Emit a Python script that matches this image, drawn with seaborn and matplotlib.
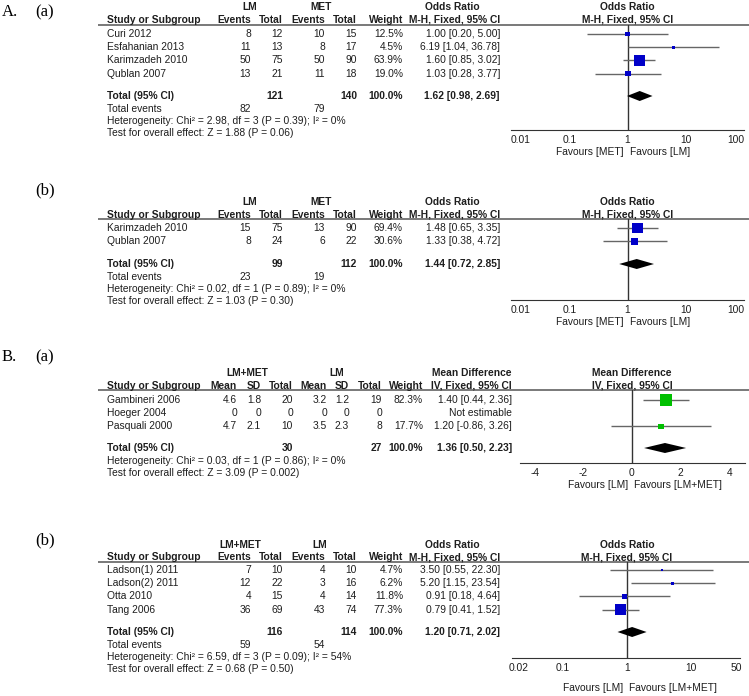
import numpy as np
import pandas as pd
import matplotlib
matplotlib.use('Agg')
import matplotlib.pyplot as plt
import seaborn as sns

# ---------------- A(a): LM vs MET (odds ratio) ----------------
aa_study = ['Curi 2012', 'Esfahanian 2013', 'Karimzadeh 2010', 'Qublan 2007']
aa_ev1 = [8, 11, 50, 13]
aa_n1 = [12, 13, 75, 21]
aa_ev2 = [10, 8, 50, 11]
aa_n2 = [15, 17, 90, 18]
aa_weight = [12.5, 4.5, 63.9, 19.0]
aa_est = [1.00, 6.19, 1.60, 1.03]
aa_lo = [0.20, 1.04, 0.85, 0.28]
aa_hi = [5.00, 36.78, 3.02, 3.77]
aa_totals = [121, 140]
aa_tot_events = [82, 79]
aa_pooled = [1.62, 0.98, 2.69]
aa_het = 'Heterogeneity: Chi² = 2.98, df = 3 (P = 0.39); I² = 0%'
aa_test = 'Test for overall effect: Z = 1.88 (P = 0.06)'

# ---------------- A(b): LM vs MET (odds ratio) ----------------
ab_study = ['Karimzadeh 2010', 'Qublan 2007']
ab_ev1 = [15, 8]
ab_n1 = [75, 24]
ab_ev2 = [13, 6]
ab_n2 = [90, 22]
ab_weight = [69.4, 30.6]
ab_est = [1.48, 1.33]
ab_lo = [0.65, 0.38]
ab_hi = [3.35, 4.72]
ab_totals = [99, 112]
ab_tot_events = [23, 19]
ab_pooled = [1.44, 0.72, 2.85]
ab_het = 'Heterogeneity: Chi² = 0.02, df = 1 (P = 0.89); I² = 0%'
ab_test = 'Test for overall effect: Z = 1.03 (P = 0.30)'

# ---------------- B(a): LM+MET vs LM (mean difference) ----------------
ba_study = ['Gambineri 2006', 'Hoeger 2004', 'Pasquali 2000']
ba_mean1 = [4.6, 0, 4.7]
ba_sd1 = [1.8, 0, 2.1]
ba_n1 = [20, 0, 10]
ba_mean2 = [3.2, 0, 3.5]
ba_sd2 = [1.2, 0, 2.3]
ba_n2 = [19, 0, 8]
ba_weight = [82.3, np.nan, 17.7]
ba_est = [1.40, np.nan, 1.20]
ba_lo = [0.44, np.nan, -0.86]
ba_hi = [2.36, np.nan, 3.26]
ba_totals = [30, 27]
ba_pooled = [1.36, 0.50, 2.23]
ba_het = 'Heterogeneity: Chi² = 0.03, df = 1 (P = 0.86); I² = 0%'
ba_test = 'Test for overall effect: Z = 3.09 (P = 0.002)'

# ---------------- B(b): LM+MET vs LM (odds ratio) ----------------
bb_study = ['Ladson(1) 2011', 'Ladson(2) 2011', 'Otta 2010', 'Tang 2006']
bb_ev1 = [7, 12, 4, 36]
bb_n1 = [10, 22, 15, 69]
bb_ev2 = [4, 3, 4, 43]
bb_n2 = [10, 16, 14, 74]
bb_weight = [4.7, 6.2, 11.8, 77.3]
bb_est = [3.50, 5.20, 0.91, 0.79]
bb_lo = [0.55, 1.15, 0.18, 0.41]
bb_hi = [22.30, 23.54, 4.64, 1.52]
bb_totals = [116, 114]
bb_tot_events = [59, 54]
bb_pooled = [1.20, 0.71, 2.02]
bb_het = 'Heterogeneity: Chi² = 6.59, df = 3 (P = 0.09); I² = 54%'
bb_test = 'Test for overall effect: Z = 0.68 (P = 0.50)'

or_ticks = [0.01, 0.1, 1, 10, 100]
or_ticks_b = [0.02, 0.1, 1, 10, 50]
md_ticks = [-4, -2, 0, 2, 4]

# ---------------- style / layout ----------------
W, H = 749, 696
FS = 7.4
TXT = '#1e1e1e'
BLUE = '#0000c8'
GREEN = '#00c000'
CI_COL = '#666666'
AX_COL = '#333333'
UL_COL = '#6e6e6e'
STUDY_X = 107
EV_X = [251, 283, 325, 357]
EV_W, EV_CI = 403, 500
MD_X = [237, 261, 293, 327, 349, 382]
MD_W, MD_CI = 423, 512

sns.set_style('white')
plt.rcParams['font.family'] = 'Liberation Sans'

fig = plt.figure(figsize=(W / 100, H / 100), dpi=100)
bg = fig.add_axes([0, 0, 1, 1])
bg.set_xlim(0, W)
bg.set_ylim(H, 0)
bg.axis('off')


def put(x, y, s, ha='right', bold=False):
    bg.text(x, y, str(s), ha=ha, va='center', fontsize=FS, color=TXT,
            fontweight='bold' if bold else 'normal')


def tag(x, y, s):
    bg.text(x, y, s, ha='left', va='center', fontsize=12,
            family='Liberation Serif', color='black')


def ci_text(e, l, h):
    return f'{e:.2f} [{l:.2f}, {h:.2f}]'


def header(y1, y2, yul, groups, cols, col_x, est_name, est_cx, est_sub, w_x, ci_x):
    for name, gx in groups:
        put(gx, y1, name, ha='center', bold=True)
    put(est_cx, y1, est_name, ha='center', bold=True)
    put(STUDY_X, y2, 'Study or Subgroup', ha='left', bold=True)
    for name, x in zip(cols, col_x):
        put(x, y2, name, bold=True)
    put(w_x, y2, 'Weight', bold=True)
    put(ci_x, y2, est_sub, bold=True)
    bg.plot([98, W], [yul, yul], color=UL_COL, lw=1.3, solid_capstyle='butt')


def body(rows, study, columns, col_x, weight, est, lo, hi, w_x, ci_x):
    for i, y in enumerate(rows):
        put(STUDY_X, y, study[i], ha='left')
        for vals, x in zip(columns, col_x):
            put(x, y, f'{vals[i]:g}')
        if np.isnan(est[i]):
            put(ci_x, y, 'Not estimable')
        else:
            put(w_x, y, f'{weight[i]:.1f}%')
            put(ci_x, y, ci_text(est[i], lo[i], hi[i]))


def footer(y_tot, totals, tot_x, w_x, ci_x, pooled):
    put(STUDY_X, y_tot, 'Total (95% CI)', ha='left', bold=True)
    for v, x in zip(totals, tot_x):
        put(x, y_tot, v, bold=True)
    put(w_x, y_tot, '100.0%', bold=True)
    put(ci_x, y_tot, ci_text(*pooled), bold=True)


def forest(top, bottom, px, xlim, log, ticks, rows, est, lo, hi, wt, pooled, y_pool,
           color, null, heads, y_heads, favours, fav_y, edge_labels=False):
    ax = fig.add_axes([px[0] / W, 1 - bottom / H, (px[1] - px[0]) / W, (bottom - top) / H])
    ax.patch.set_visible(False)
    if log:
        ax.set_xscale('log')
    ax.set_xlim(xlim)
    ax.set_ylim(bottom, top)
    ax.axvline(null, color=AX_COL, lw=1, zorder=1)
    df = pd.DataFrame({'est': est, 'lo': lo, 'hi': hi, 'y': rows, 'w': wt}).dropna()
    ax.hlines(df['y'], df['lo'], df['hi'], color=CI_COL, lw=1, zorder=2)
    sns.scatterplot(data=df, x='est', y='y', size='w', sizes=(0, 85), size_norm=(0, 100),
                    marker='s', color=color, edgecolor=color, linewidth=0,
                    legend=False, ax=ax, zorder=3)
    e, l, h = pooled
    ax.fill([l, e, h, e], [y_pool, y_pool - 5, y_pool, y_pool + 5],
            color='black', lw=0, zorder=4)
    for s in ['top', 'left', 'right']:
        ax.spines[s].set_visible(False)
    ax.spines['bottom'].set_color(AX_COL)
    ax.set_yticks([])
    ax.set_xticks(ticks, [f'{t:g}' for t in ticks])
    ax.minorticks_off()
    ax.tick_params(axis='x', direction='inout', length=6, width=1, color=AX_COL,
                   labelcolor=TXT, labelsize=FS, pad=0.8)
    if edge_labels:
        labels = ax.get_xticklabels()
        labels[0].set_horizontalalignment('left')
        labels[-1].set_horizontalalignment('right')
    ax.set_xlabel('')
    ax.set_ylabel('')
    x0 = ax.transData.transform((null, top))[0]
    for s, y in zip(heads, y_heads):
        put(x0, y, s, ha='center', bold=True)
    put(x0 - 4, fav_y, favours[0], ha='right')
    put(x0 + 2, fav_y, favours[1], ha='left')


def rows_at(y0, n, step=13.2):
    return [y0 + step * i for i in range(n)]


# ================= A(a) =================
tag(2, 12, 'A.')
tag(35, 12, '(a)')
r = rows_at(34, len(aa_study))
header(7, 20, 25, [('LM', 250), ('MET', 321)], ['Events', 'Total', 'Events', 'Total'], EV_X,
       'Odds Ratio', 452, 'M-H, Fixed, 95% CI', EV_W, EV_CI)
body(r, aa_study, [aa_ev1, aa_n1, aa_ev2, aa_n2], EV_X, aa_weight, aa_est, aa_lo, aa_hi, EV_W, EV_CI)
footer(96, aa_totals, [EV_X[1], EV_X[3]], EV_W, EV_CI, aa_pooled)
put(STUDY_X, 108.5, 'Total events', ha='left')
put(EV_X[0], 108.5, aa_tot_events[0])
put(EV_X[2], 108.5, aa_tot_events[1])
put(STUDY_X, 121, aa_het, ha='left')
put(STUDY_X, 133.5, aa_test, ha='left')
forest(25, 130, (511, 744), (0.01, 100), True, or_ticks, r, aa_est, aa_lo, aa_hi, aa_weight,
       aa_pooled, 96, BLUE, 1, ['Odds Ratio', 'M-H, Fixed, 95% CI'], [7, 20],
       ['Favours [MET]', 'Favours [LM]'], 152, edge_labels=True)

# ================= A(b) =================
tag(35, 190, '(b)')
r = rows_at(228, len(ab_study))
header(202, 214.5, 219, [('LM', 250), ('MET', 321)], ['Events', 'Total', 'Events', 'Total'], EV_X,
       'Odds Ratio', 452, 'M-H, Fixed, 95% CI', EV_W, EV_CI)
body(r, ab_study, [ab_ev1, ab_n1, ab_ev2, ab_n2], EV_X, ab_weight, ab_est, ab_lo, ab_hi, EV_W, EV_CI)
footer(264, ab_totals, [EV_X[1], EV_X[3]], EV_W, EV_CI, ab_pooled)
put(STUDY_X, 276.5, 'Total events', ha='left')
put(EV_X[0], 276.5, ab_tot_events[0])
put(EV_X[2], 276.5, ab_tot_events[1])
put(STUDY_X, 289, ab_het, ha='left')
put(STUDY_X, 301.5, ab_test, ha='left')
forest(219, 300, (511, 744), (0.01, 100), True, or_ticks, r, ab_est, ab_lo, ab_hi, ab_weight,
       ab_pooled, 264, BLUE, 1, ['Odds Ratio', 'M-H, Fixed, 95% CI'], [202, 214.5],
       ['Favours [MET]', 'Favours [LM]'], 322, edge_labels=True)

# ================= B(a) =================
tag(2, 357, 'B.')
tag(35, 357, '(a)')
r = rows_at(400, len(ba_study))
header(373, 386, 390, [('LM+MET', 247), ('LM', 337)],
       ['Mean', 'SD', 'Total', 'Mean', 'SD', 'Total'], MD_X,
       'Mean Difference', 472, 'IV, Fixed, 95% CI', MD_W, MD_CI)
body(r, ba_study, [ba_mean1, ba_sd1, ba_n1, ba_mean2, ba_sd2, ba_n2], MD_X,
     ba_weight, ba_est, ba_lo, ba_hi, MD_W, MD_CI)
footer(448, ba_totals, [MD_X[2], MD_X[5]], MD_W, MD_CI, ba_pooled)
put(STUDY_X, 460.5, ba_het, ha='left')
put(STUDY_X, 473, ba_test, ha='left')
forest(390, 463, (520, 745), (-4.6, 4.65), False, md_ticks, r, ba_est, ba_lo, ba_hi, ba_weight,
       ba_pooled, 448, GREEN, 0, ['Mean Difference', 'IV, Fixed, 95% CI'], [373, 386],
       ['Favours [LM]', 'Favours [LM+MET]'], 485)

# ================= B(b) =================
tag(35, 540, '(b)')
r = rows_at(570, len(bb_study))
header(545, 557.5, 562, [('LM+MET', 240), ('LM', 320)], ['Events', 'Total', 'Events', 'Total'], EV_X,
       'Odds Ratio', 452, 'M-H, Fixed, 95% CI', EV_W, EV_CI)
body(r, bb_study, [bb_ev1, bb_n1, bb_ev2, bb_n2], EV_X, bb_weight, bb_est, bb_lo, bb_hi, EV_W, EV_CI)
footer(632, bb_totals, [EV_X[1], EV_X[3]], EV_W, EV_CI, bb_pooled)
put(STUDY_X, 644.5, 'Total events', ha='left')
put(EV_X[0], 644.5, bb_tot_events[0])
put(EV_X[2], 644.5, bb_tot_events[1])
put(STUDY_X, 657, bb_het, ha='left')
put(STUDY_X, 669.5, bb_test, ha='left')
forest(562, 658, (512, 740), (0.016, 58), True, or_ticks_b, r, bb_est, bb_lo, bb_hi, bb_weight,
       bb_pooled, 632, BLUE, 1, ['Odds Ratio', 'M-H, Fixed, 95% CI'], [545, 557.5],
       ['Favours [LM]', 'Favours [LM+MET]'], 688)

fig.savefig('out.png', dpi=100)
